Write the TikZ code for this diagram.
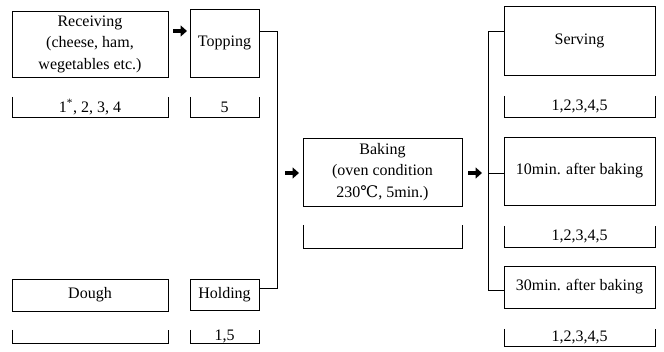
\documentclass[tikz,border=0pt]{standalone}
\usepackage{fontspec}
\setmainfont{Liberation Serif}
\newfontfamily\dvs{DejaVu Serif}
\usetikzlibrary{arrows.meta}
\tikzset{
  box/.style={draw, line width=0.8pt, rectangle, inner sep=0pt, outer sep=0pt, align=center,
    font=\fontsize{16}{21.5}\selectfont},
  brk/.style={rectangle, inner sep=0pt, outer sep=0pt, align=center,
    font=\fontsize{16}{21.5}\selectfont},
  bline/.style={line width=0.8pt},
  link/.style={line width=0.8pt},
  fat/.style={line width=4.4pt, -{Triangle[length=6.5pt,width=11pt]}}
}
\newcommand{\bracketof}[1]{\draw[bline] (#1.north west) -- (#1.south west) -- (#1.south east) -- (#1.north east);}
\begin{document}
\begin{tikzpicture}[x=1pt,y=-1pt]
\useasboundingbox (0,0) rectangle (664,352);
% left column
\node[box, minimum width=156pt, minimum height=66pt] (rec) at (90,44) {Receiving\\(cheese, ham,\\wegetables etc.)};
\node[brk, minimum width=156pt, minimum height=20pt] (recb) at (90,107) {1\textsuperscript{*}, 2, 3, 4};
\node[box, minimum width=156pt, minimum height=32pt] (dough) at (90,295) {Dough};
\node[brk, minimum width=156pt, minimum height=13pt] (doughb) at (90,336.5) {};
% second column
\node[box, minimum width=69pt, minimum height=68pt] (top) at (224.5,43) {Topping};
\node[brk, minimum width=69pt, minimum height=20pt] (topb) at (224.5,107) {5};
\node[box, minimum width=69pt, minimum height=31pt] (hold) at (224.5,294.5) {Holding};
\node[brk, minimum width=69pt, minimum height=13pt] (holdb) at (224.5,336.5) {1,5};
% baking
\node[box, minimum width=159pt, minimum height=68pt] (bake) at (382.5,172) {Baking\\(oven condition\\230{\dvs ℃}, 5min.)};
\node[brk, minimum width=159pt, minimum height=23pt] (bakeb) at (382.5,236.5) {};
% right column
\node[box, minimum width=151pt, minimum height=69pt] (serv) at (579.5,40.5) {Serving};
\node[brk, minimum width=151pt, minimum height=21pt] (servb) at (579.5,106.5) {1,2,3,4,5};
\node[box, minimum width=151pt, minimum height=68pt] (ten) at (579.5,171) {10min. after baking};
\node[brk, minimum width=151pt, minimum height=21pt] (tenb) at (579.5,236.5) {1,2,3,4,5};
\node[box, minimum width=151pt, minimum height=42pt] (thirty) at (579.5,287) {30min. after baking};
\node[brk, minimum width=151pt, minimum height=17pt] (thirtyb) at (579.5,337.5) {1,2,3,4,5};
% brackets
\bracketof{recb}
\bracketof{doughb}
\bracketof{topb}
\bracketof{holdb}
\bracketof{bakeb}
\bracketof{servb}
\bracketof{tenb}
\bracketof{thirtyb}
% connectors
\coordinate (tj) at (277,31);
\coordinate (hj) at (277,288);
\draw[link] (top.east |- tj) -- (tj) -- (hj) -- (hold.east |- hj);
\coordinate (b1) at (488,31);
\coordinate (b2) at (488,173);
\coordinate (b3) at (488,290);
\draw[link] (serv.west |- b1) -- (b1) -- (b3) -- (thirty.west |- b3);
\draw[link] (b2) -- (ten.west |- b2);
% fat arrows
\coordinate (a1s) at (173,31);
\coordinate (a1e) at (187,31);
\coordinate (a2s) at (285,173);
\coordinate (a2e) at (299,173);
\coordinate (a3s) at (468,173);
\coordinate (a3e) at (482,173);
\draw[fat] (a1s) -- (a1e);
\draw[fat] (a2s) -- (a2e);
\draw[fat] (a3s) -- (a3e);
\end{tikzpicture}
\end{document}
